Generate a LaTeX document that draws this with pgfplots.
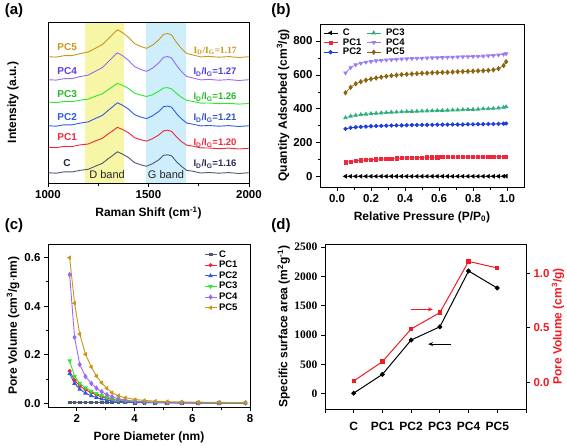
\documentclass[border=0pt]{standalone}
\usepackage{fontspec}
\setmainfont{Liberation Sans}
\newfontfamily\tnr{Liberation Serif}
\usepackage{pgfplots}
\pgfplotsset{compat=1.18}
\usepackage{pgfplotstable}
\usetikzlibrary{arrows.meta}

\definecolor{aC}{HTML}{4B5A6E}
\definecolor{aPCa}{HTML}{F0283C}
\definecolor{aPCb}{HTML}{2E5CE6}
\definecolor{aPCc}{HTML}{2EE82E}
\definecolor{aPCd}{HTML}{9A6AF0}
\definecolor{aPCe}{HTML}{C9961A}
\definecolor{bPCc}{HTML}{2FAE7C}
\definecolor{bPCd}{HTML}{9A7CF5}
\definecolor{bPCe}{HTML}{8B6410}
\definecolor{bPCb}{HTML}{1E3DE0}
\definecolor{dred}{HTML}{EE1C25}
\definecolor{yband}{HTML}{F6F6A6}
\definecolor{gband}{HTML}{CDEEFA}

\pgfplotstableread{
x C PC1 PC2 PC3 PC4 PC5
1000 10.3 35.8 57.3 81.0 103.3 126.3
1040 9.8 35.3 56.8 80.3 102.9 125.9
1080 11.1 36.6 58.2 81.6 104.3 127.3
1120 11.1 36.5 58.2 81.4 104.4 127.4
1160 12.7 38.1 59.9 82.9 106.4 129.4
1200 13.7 39.0 61.1 83.8 107.9 130.9
1240 17.2 42.4 64.9 87.1 112.2 135.2
1270 19.6 44.6 67.5 89.1 115.4 138.4
1300 24.4 49.2 72.7 93.5 121.3 144.3
1320 27.2 51.9 75.9 96.1 125.3 148.3
1345 31.2 55.7 80.2 99.7 130.2 153.2
1370 29.0 53.6 77.9 97.7 127.5 150.5
1400 25.5 50.3 73.9 94.6 122.8 145.8
1430 20.4 45.4 68.5 89.9 116.5 139.5
1460 18.3 43.4 66.0 88.0 113.6 136.6
1490 16.7 41.9 64.4 86.5 111.7 134.7
1520 19.3 44.3 67.2 88.2 114.8 137.8
1550 23.0 47.9 71.3 91.6 119.9 142.9
1575 27.7 52.1 76.4 95.0 125.7 148.7
1595 28.2 52.8 76.9 95.4 126.5 149.5
1615 27.2 51.6 75.8 94.1 125.0 148.0
1640 21.1 46.0 69.2 89.5 117.4 140.4
1665 16.5 41.2 64.1 85.5 111.3 134.3
1690 12.6 37.9 59.9 82.7 106.5 129.5
1720 11.8 36.9 58.9 81.6 105.1 128.1
1760 10.0 35.1 57.1 79.9 103.1 126.1
1800 10.5 35.0 57.5 80.0 103.6 126.6
1850 9.8 34.3 56.8 79.3 102.8 125.8
1900 10.4 34.9 57.4 79.7 103.4 126.4
1950 9.5 34.0 56.5 78.9 102.5 125.5
2000 10.3 34.8 57.3 79.5 103.3 126.3
}\ramantable

\pgfplotstableread{
x C PC1 PC2 PC3 PC4 PC5
0.05 3 85 282 348 612 495
0.08 3 90 289 357 643 527
0.11 3 94 292 362 660 548
0.14 3 97 294 366 669 560
0.17 3 99 296 369 675 569
0.20 3 101 298 372 679 576
0.23 3 103 299 374 683 582
0.26 3 105 300 376 686 587
0.29 3 106 301 378 688 592
0.32 3 108 302 380 690 596
0.35 3 109 303 381 692 599
0.38 3 110 303 383 694 602
0.41 3 111 304 384 695 604
0.44 3 112 305 385 697 606
0.47 3 113 305 386 698 608
0.50 3 114 306 387 699 610
0.53 3 115 306 388 700 611
0.56 3 115 306 389 701 613
0.59 3 115 307 390 702 614
0.62 3 116 307 391 703 615
0.65 3 116 307 392 704 616
0.68 3 116 308 393 705 617
0.71 3 116 308 394 706 619
0.74 3 116 308 395 707 620
0.77 3 117 309 396 708 621
0.80 3 117 309 397 709 622
0.83 3 117 310 398 710 624
0.86 3 117 310 400 711 625
0.89 3 117 311 401 713 627
0.92 3 118 311 403 715 630
0.95 3 118 312 405 718 637
0.98 3.5 119 313 409 722 655
0.995 4 119 314 412 725 678
}\isotable

\pgfplotstableread{
x C PC1 PC2 PC3 PC4 PC5
1.75 0.004 0.133 0.122 0.175 0.530 0.600
1.92 0.004 0.095 0.082 0.112 0.272 0.412
2.10 0.004 0.072 0.058 0.082 0.160 0.285
2.30 0.004 0.056 0.042 0.064 0.110 0.202
2.50 0.004 0.044 0.031 0.050 0.082 0.150
2.68 0.004 0.035 0.024 0.040 0.063 0.112
2.86 0.004 0.027 0.018 0.032 0.048 0.085
3.04 0.004 0.021 0.014 0.025 0.036 0.062
3.22 0.004 0.016 0.010 0.019 0.027 0.044
3.44 0.004 0.012 0.008 0.014 0.019 0.031
3.68 0.004 0.009 0.006 0.010 0.013 0.023
4.02 0.003 0.006 0.004 0.007 0.009 0.016
4.34 0.003 0.005 0.003 0.005 0.007 0.012
4.72 0.003 0.004 0.003 0.004 0.005 0.009
5.13 0.003 0.003 0.002 0.003 0.004 0.007
5.63 0.003 0.002 0.002 0.003 0.003 0.006
6.21 0.003 0.002 0.001 0.002 0.003 0.005
6.93 0.003 0.002 0.001 0.002 0.002 0.004
7.84 0.003 0.001 0.001 0.002 0.002 0.003
}\poretable

\pgfplotsset{
  myax/.style={
    scale only axis,
    axis line style={line width=0.9pt},
    tick align=outside,
    major tick length=4pt,
    minor tick length=2.5pt,
    every tick/.style={line width=0.8pt, black},
    xtick pos=bottom, ytick pos=left,
    tick label style={font=\bfseries\fontsize{11.5}{12}\selectfont},
    /pgf/number format/assume math mode=true,
    /pgf/number format/1000 sep={},
    scaled ticks=false,
    label style={font=\bfseries\fontsize{12}{13}\selectfont},
    anchor=south west,
  },
  shortleg/.style={legend image code/.code={\draw[mark repeat=2,mark phase=2] plot coordinates {(0pt,0pt)(#1,0pt)(2*#1,0pt)};}},
}

\begin{document}
\begin{tikzpicture}
\path[use as bounding box] (0,0) rectangle (567pt,445pt);

% ---------------- (a)
\begin{axis}[myax, at={(48pt,262pt)}, width=201pt, height=161pt,
  xmin=1000, xmax=2000, ymin=0, ymax=161,
  xtick={1000,1500,2000}, minor x tick num=1, ytick=\empty,
  xlabel={Raman Shift (cm\textsuperscript{-1})},
  ylabel={Intensity (a.u.)},
  xlabel style={at={(axis description cs:0.5,-0.186)}, anchor=center},
  ylabel style={at={(axis description cs:-0.174,0.5)}, anchor=center, rotate=0},
  axis on top]
\fill[yband] (axis cs:1184,0) rectangle (axis cs:1378,161);
\fill[gband] (axis cs:1488,0) rectangle (axis cs:1687,161);
\addplot[aC, line width=0.9pt] table[x=x,y=C] {\ramantable};
\addplot[aPCa, line width=0.9pt] table[x=x,y=PC1] {\ramantable};
\addplot[aPCb, line width=0.9pt] table[x=x,y=PC2] {\ramantable};
\addplot[aPCc, line width=0.9pt] table[x=x,y=PC3] {\ramantable};
\addplot[aPCd, line width=0.9pt] table[x=x,y=PC4] {\ramantable};
\addplot[aPCe, line width=0.9pt] table[x=x,y=PC5] {\ramantable};
\begin{scope}[font=\bfseries\fontsize{10}{11}\selectfont]
\node[text={rgb,255:red,30;green,30;blue,60}] at (axis cs:1095,20) {C};
\node[text=aPCa] at (axis cs:1095,46) {PC1};
\node[text=aPCb] at (axis cs:1095,66) {PC2};
\node[text=aPCc!80!black] at (axis cs:1095,89) {PC3};
\node[text={rgb,255:red,90;green,60;blue,230}] at (axis cs:1095,112) {PC4};
\node[text=aPCe] at (axis cs:1095,136) {PC5};
\end{scope}
\begin{scope}[font=\bfseries\fontsize{9.5}{10}\selectfont]
\node[text={rgb,255:red,40;green,40;blue,100}] at (axis cs:1831,19) {I\textsubscript{D}/I\textsubscript{G}=1.16};
\node[text=aPCa] at (axis cs:1831,40) {I\textsubscript{D}/I\textsubscript{G}=1.20};
\node[text={rgb,255:red,50;green,80;blue,200}] at (axis cs:1831,65) {I\textsubscript{D}/I\textsubscript{G}=1.21};
\node[text=aPCc!80!black] at (axis cs:1831,86) {I\textsubscript{D}/I\textsubscript{G}=1.26};
\node[text={rgb,255:red,80;green,60;blue,220}] at (axis cs:1831,111) {I\textsubscript{D}/I\textsubscript{G}=1.27};
\node[text=aPCe, font=\tnr\bfseries\fontsize{9.5}{10}\selectfont] at (axis cs:1831,132) {I\textsubscript{D}/I\textsubscript{G}=1.17};
\end{scope}
\node[font=\fontsize{11}{12}\selectfont, text=black!85] at (axis cs:1294,8) {D band};
\node[font=\fontsize{11}{12}\selectfont, text=black!85] at (axis cs:1587,8) {G band};
\end{axis}

% ---------------- (b)
\begin{axis}[myax, at={(320pt,258pt)}, width=204pt, height=163pt,
  xmin=-0.1, xmax=1.1, ymin=-60, ymax=900,
  xtick={0,0.2,0.4,0.6,0.8,1}, minor x tick num=1,
  ytick={0,200,400,600,800}, minor y tick num=1,
  xticklabel style={/pgf/number format/.cd, fixed, fixed zerofill, precision=1},
  xlabel={Relative Pressure (P/P\textsubscript{0})},
  ylabel={Quantity Adsorbed (cm\textsuperscript{3}/g)},
  xlabel style={at={(axis description cs:0.5,-0.184)}, anchor=center},
  ylabel style={at={(axis description cs:-0.181,0.5)}, anchor=center},
  legend columns=3, transpose legend,
  legend style={draw=none, fill=none, at={(0.01,0.99)}, anchor=north west,
    font=\bfseries\fontsize{9.5}{10}\selectfont, row sep=-2.5pt, column sep=3pt, inner sep=1pt},
  legend cell align=left,
  shortleg=7pt]
\addplot[black, line width=0.7pt, mark=triangle*, mark size=2pt, mark options={rotate=90}] table[x=x,y=C] {\isotable};
\addlegendentry{C}
\addplot[aPCa, line width=0.7pt, mark=square*, mark size=1.6pt] table[x=x,y=PC1] {\isotable};
\addlegendentry{PC1}
\addplot[bPCb, line width=0.7pt, mark=*, mark size=1.8pt] table[x=x,y=PC2] {\isotable};
\addlegendentry{PC2}
\addplot[bPCc, line width=0.7pt, mark=triangle*, mark size=2pt] table[x=x,y=PC3] {\isotable};
\addlegendentry{PC3}
\addplot[bPCd, line width=0.7pt, mark=triangle*, mark size=2pt, mark options={rotate=180}] table[x=x,y=PC4] {\isotable};
\addlegendentry{PC4}
\addplot[bPCe, line width=0.7pt, mark=diamond*, mark size=2.2pt] table[x=x,y=PC5] {\isotable};
\addlegendentry{PC5}
\end{axis}

% ---------------- (c)
\begin{axis}[myax, at={(48pt,38pt)}, width=202pt, height=163pt,
  xmin=1, xmax=8, ymin=-0.015, ymax=0.656,
  xtick={2,4,6,8}, minor x tick num=1,
  ytick={0,0.2,0.4,0.6}, minor y tick num=1,
  yticklabel style={/pgf/number format/.cd, fixed, fixed zerofill, precision=1},
  xlabel={Pore Diameter (nm)},
  ylabel={Pore Volume (cm\textsuperscript{3}/g$\cdot$nm)},
  xlabel style={at={(axis description cs:0.5,-0.184)}, anchor=center},
  ylabel style={at={(axis description cs:-0.173,0.5)}, anchor=center},
  legend style={draw=none, fill=none, at={(0.767,0.98)}, anchor=north west,
    font=\bfseries\fontsize{9.5}{10}\selectfont, row sep=-1.5pt, inner sep=1pt},
  legend cell align=left,
  shortleg=6pt]
\addplot[aC, line width=0.9pt, mark=square*, mark size=1.4pt] table[x=x,y=C] {\poretable};
\addlegendentry{C}
\addplot[aPCa, line width=0.9pt, mark=*, mark size=1.6pt] table[x=x,y=PC1] {\poretable};
\addlegendentry{PC1}
\addplot[aPCb, line width=0.9pt, mark=triangle*, mark size=1.8pt] table[x=x,y=PC2] {\poretable};
\addlegendentry{PC2}
\addplot[aPCc, line width=0.9pt, mark=triangle*, mark size=1.8pt, mark options={rotate=180}] table[x=x,y=PC3] {\poretable};
\addlegendentry{PC3}
\addplot[aPCd, line width=0.9pt, mark=diamond*, mark size=2pt] table[x=x,y=PC4] {\poretable};
\addlegendentry{PC4}
\addplot[aPCe, line width=0.9pt, mark=triangle*, mark size=1.8pt, mark options={rotate=90}] table[x=x,y=PC5] {\poretable};
\addlegendentry{PC5}
\end{axis}

% ---------------- (d)
\begin{axis}[myax, at={(325pt,36pt)}, width=201pt, height=165pt,
  xmin=-1, xmax=6, ymin=-260, ymax=2550,
  xtick={-1,0,1,2,3,4,5,6}, xticklabels={,C,PC1,PC2,PC3,PC4,PC5,},
  xticklabel style={font=\bfseries\fontsize{12}{13}\selectfont, yshift=-6pt},
  ytick={0,500,1000,1500,2000,2500},
  yticklabel style={font=\tnr\bfseries\fontsize{11.5}{12}\selectfont},
  ylabel={Specific surface area (m\textsuperscript{2}g\textsuperscript{-1})},
  ylabel style={at={(axis description cs:-0.205,0.5)}, anchor=center}]
\addplot[black, line width=1pt, mark=*, mark size=1.9pt] coordinates {(0,10)(1,330)(2,915)(3,1140)(4,2090)(5,1800)};
\draw[-{Stealth[length=5pt,width=4pt]}, line width=1.2pt, black] (axis cs:3.39,845) -- (axis cs:2.59,845);
\end{axis}
\begin{axis}[myax, at={(325pt,36pt)}, width=201pt, height=165pt,
  xmin=-1, xmax=6, ymin=-0.245, ymax=1.27,
  axis x line=none, axis y line*=right, ytick pos=right,
  ytick={0,0.5,1},
  yticklabel style={text=dred, /pgf/number format/.cd, fixed, fixed zerofill, precision=1},
  ylabel={Pore Volume (cm\textsuperscript{3}/g)},
  ylabel style={text=dred, at={(axis description cs:1.159,0.5)}, anchor=center, rotate=0}]
\addplot[dred, line width=1pt, mark=square*, mark size=1.7pt] coordinates {(0,0.012)(1,0.19)(2,0.49)(3,0.64)(4,1.11)(5,1.05)};
\draw[-{Stealth[length=5pt,width=4pt]}, line width=1.2pt, dred] (axis cs:2.0,0.67) -- (axis cs:2.76,0.67);
\end{axis}

\node[font=\bfseries\fontsize{15}{16}\selectfont] at (14pt,434pt) {(a)};
\node[font=\bfseries\fontsize{15}{16}\selectfont] at (281pt,434pt) {(b)};
\node[font=\bfseries\fontsize{15}{16}\selectfont] at (14pt,219pt) {(c)};
\node[font=\bfseries\fontsize{15}{16}\selectfont] at (281pt,219pt) {(d)};
\end{tikzpicture}
\end{document}
